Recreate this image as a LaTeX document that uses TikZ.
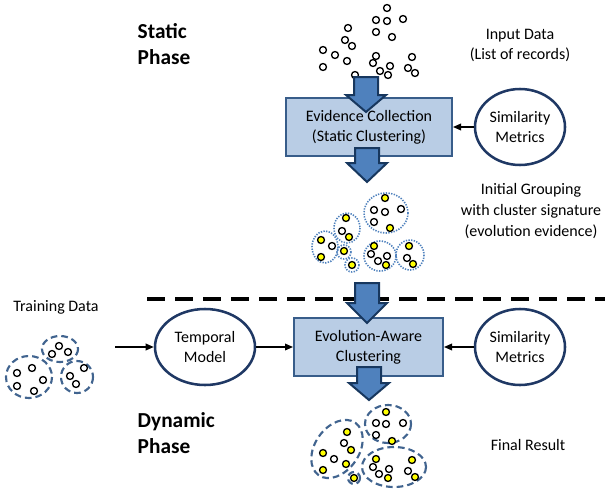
\documentclass[tikz,border=0pt]{standalone}
\usepackage{fontspec}
\setmainfont{Carlito}
\usepackage{tikz}
\usetikzlibrary{arrows.meta, shapes.geometric}

\definecolor{boxfill}{HTML}{B9CDE5}
\definecolor{boxline}{HTML}{385D8A}
\definecolor{arrowfill}{HTML}{4F81BD}
\definecolor{arrowline}{HTML}{17375E}
\definecolor{ovalline}{HTML}{1F3864}
\definecolor{groupline}{HTML}{4F81BD}
\definecolor{clusterline}{HTML}{41648F}
\definecolor{sigfill}{HTML}{FFFF00}

\tikzset{
  stepbox/.style={draw=boxline, line width=1.5pt, fill=boxfill, align=center, inner sep=0pt,
    font=\fontsize{12}{15}\selectfont},
  oval/.style={ellipse, draw=ovalline, line width=1.9pt, fill=white, align=center, inner sep=0pt,
    minimum width=67.5pt, minimum height=57pt, font=\fontsize{12}{15}\selectfont},
  blockarrow/.style={draw=arrowline, line width=1.5pt, fill=arrowfill, line join=miter},
  flow/.style={-{Triangle[length=6pt,width=5pt]}, line width=1pt},
  rec/.style={draw=black, line width=1pt, fill=white},
  sig/.style={draw=black, line width=1pt, fill=sigfill},
  group/.style={draw=groupline, line width=1.2pt, dash pattern=on 1pt off 1pt},
  cluster/.style={draw=clusterline, line width=1.6pt, dash pattern=on 5pt off 3pt},
  txt/.style={font=\fontsize{12}{15}\selectfont, align=center},
  phase/.style={font=\fontsize{16}{20}\selectfont\bfseries, align=left, anchor=west}
}

\begin{document}
\begin{tikzpicture}[x=0.75pt, y=-0.75pt]
\useasboundingbox (0,0) rectangle (605,492);

% phase titles
\node[phase] (static) at (133,44) {Static\\Phase};
\node[phase] (dynamic) at (133,433) {Dynamic\\Phase};

% side texts
\node[txt] (input) at (520,45) {Input Data\\(List of records)};
\node[txt, font=\fontsize{12}{16}\selectfont] (initial) at (531,211) {Initial Grouping\\with cluster signature\\(evolution evidence)};
\node[txt] (final) at (528,445) {Final Result};
\node[txt] (training) at (56,307) {Training Data};

% input records
\foreach \x/\y in {387/8, 376/20, 387/21, 403/19, 348/28, 376/32, 392/37, 345/40, 352/46,
  323/50, 335/55, 347/61, 376/56, 412/57, 323/67, 373/63, 390/66, 380/71, 388/75,
  408/68, 415/73, 355/75}
\draw[rec] (\x,\y) circle[radius=2.6pt];

% process boxes and ovals
\node[stepbox, minimum width=124.5pt, minimum height=43.5pt] (evidence) at (369,127)
  {Evidence Collection\\(Static Clustering)};
\node[oval] (simA) at (520,127) {Similarity\\Metrics};
\node[stepbox, minimum width=111.75pt, minimum height=43.5pt] (evolution) at (368.5,347)
  {Evolution-Aware\\Clustering};
\node[oval] (simB) at (520,347) {Similarity\\Metrics};
\node[oval, minimum width=75pt] (temporal) at (205,347) {Temporal\\Model};
\coordinate (trainin) at (115,347);

% phase separator
\draw[line width=3pt, dash pattern=on 13.5pt off 7.5pt] (147,299) -- (605,299);

% block arrows
\foreach \x/\a/\b/\c in {366/77/95/112, 367/148/163/182, 367/283/303/323, 369/367/383/400}
\draw[blockarrow] ({\x-12},\a) -- ({\x+12},\a) -- ({\x+12},\b) -- ({\x+20},\b) -- (\x,\c)
  -- ({\x-20},\b) -- ({\x-12},\b) -- cycle;

% thin arrows
\draw[flow] (simA) -- (evidence);
\draw[flow] (simB) -- (evolution);
\draw[flow] (temporal) -- (evolution);
\draw[flow] (trainin) -- (temporal);

% initial grouping
\draw[group] (386,213) ellipse[x radius=22, y radius=20];
\draw[group] (347,228) ellipse[x radius=13, y radius=15];
\draw[group] (325,247) ellipse[x radius=13, y radius=16];
\draw[group] (344,252) circle[radius=7];
\draw[group] (352,265) circle[radius=7];
\draw[group] (380,256) ellipse[x radius=16, y radius=15];
\draw[group] (410,255) ellipse[x radius=14, y radius=15];
\foreach \x/\y in {374/210, 385/212, 401/209, 374/222, 342/231, 332/246, 371/254, 387/256,
  378/261, 407/258}
\draw[rec] (\x,\y) circle[radius=2.6pt];
\foreach \x/\y in {385/198, 390/228, 346/218, 349/237, 321/240, 321/257, 344/251, 352/265,
  374/246, 386/265, 409/246, 413/264}
\draw[sig] (\x,\y) circle[radius=2.6pt];

% training data clusters
\draw[cluster] (60,349) ellipse[x radius=18, y radius=13];
\draw[cluster] (29,377) ellipse[x radius=23, y radius=21];
\draw[cluster] (77,377) ellipse[x radius=16, y radius=16];
\foreach \x/\y in {59/346, 52/354, 68/352, 32/368, 17/373, 43/380, 17/386, 34/391,
  84/368, 70/376, 76/384}
\draw[rec] (\x,\y) circle[radius=2.6pt];

% final result clusters
\draw[cluster, rotate around={55:(337,449)}] (337,449) ellipse[x radius=32, y radius=22];
\draw[cluster] (388,424) ellipse[x radius=23, y radius=19];
\draw[cluster] (394,467) ellipse[x radius=32, y radius=20];
\draw[cluster] (354,478) circle[radius=6];
\foreach \x/\y in {344/443, 334/459, 376/423, 386/424, 403/423, 376/435, 373/467, 389/469,
  379/474, 408/471}
\draw[rec] (\x,\y) circle[radius=2.6pt];
\foreach \x/\y in {347/432, 351/450, 323/453, 346/464, 323/470, 386/412, 392/441, 376/459,
  388/478, 412/460, 415/477, 354/478}
\draw[sig] (\x,\y) circle[radius=2.6pt];
\end{tikzpicture}
\end{document}
